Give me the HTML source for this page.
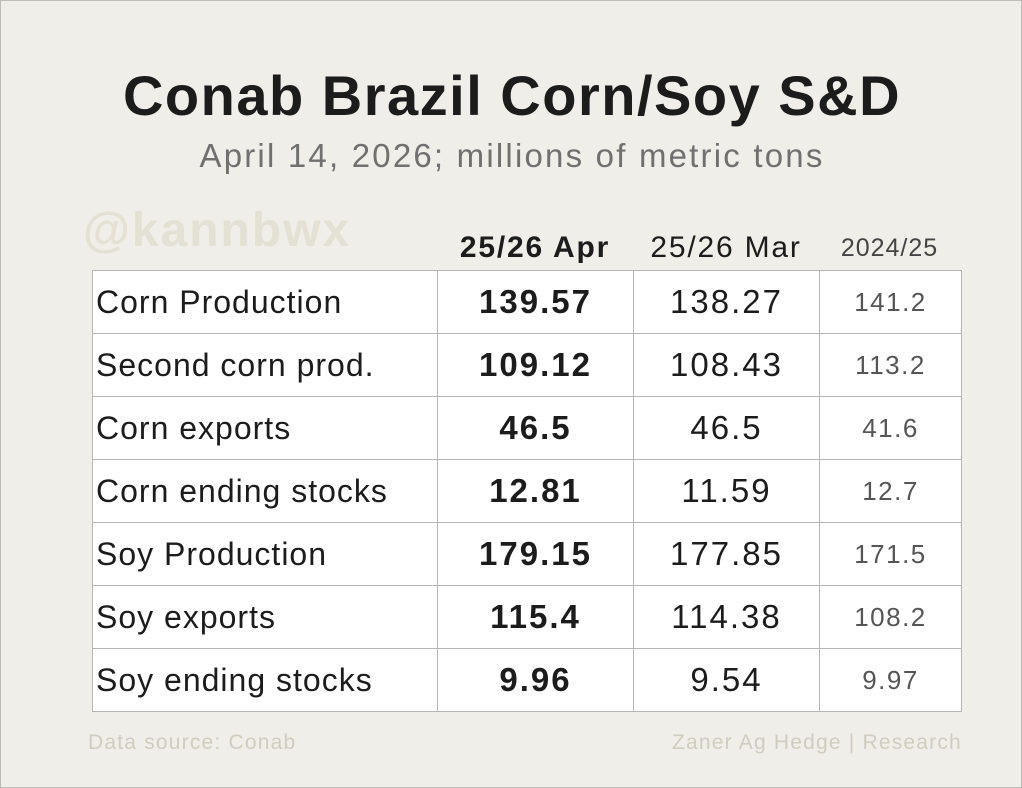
<!DOCTYPE html>
<html><head><style>
html,body{margin:0;padding:0}
body{width:1022px;height:788px;background:#efeee8;position:relative;overflow:hidden;font-family:"Liberation Sans",sans-serif;box-sizing:border-box;border:1px solid #bdbdb8}
.a{position:absolute;white-space:nowrap}
#t{left:0;width:1022px;text-align:center;top:62px;font-size:56px;font-weight:bold;color:#1c1c1c;letter-spacing:1.5px}
#s{left:0;width:1022px;text-align:center;top:136px;font-size:33px;color:#707070;letter-spacing:2.2px}
#w{left:82px;top:202px;font-size:48px;font-weight:bold;color:#e3e1d4;letter-spacing:2px}
.h{top:230px;font-size:30px;color:#1c1c1c;text-align:center;letter-spacing:1.8px}
table{position:absolute;left:91px;top:269px;border-collapse:collapse;background:#fff;table-layout:fixed;width:869px}
td{border:1.5px solid #b5b5b5;height:62px;padding:0;font-size:32px;color:#1c1c1c;letter-spacing:1px;overflow:hidden;white-space:nowrap}
td.l{padding-left:3px}
td.b{text-align:center;font-weight:bold;font-size:33px;letter-spacing:2px}
td.m{text-align:center;font-size:33px;letter-spacing:2px}
td.p{text-align:center;font-size:26px;color:#555;letter-spacing:1.5px}
.f{top:730px;font-size:21px;color:#cfcdbf;letter-spacing:1.2px}
</style></head><body>
<div class="a" id="t">Conab Brazil Corn/Soy S&amp;D</div>
<div class="a" id="s">April 14, 2026; millions of metric tons</div>
<div class="a" id="w">@kannbwx</div>
<div class="a h" style="left:436px;width:196px;font-weight:bold">25/26 Apr</div>
<div class="a h" style="left:632px;width:186px">25/26 Mar</div>
<div class="a h" style="left:818px;width:141px;font-size:25px;color:#444;top:233px;letter-spacing:1px">2024/25</div>
<table>
<col style="width:345px"><col style="width:196px"><col style="width:186px"><col style="width:142px">
<tr><td class="l">Corn Production</td><td class="b">139.57</td><td class="m">138.27</td><td class="p">141.2</td></tr>
<tr><td class="l">Second corn prod.</td><td class="b">109.12</td><td class="m">108.43</td><td class="p">113.2</td></tr>
<tr><td class="l">Corn exports</td><td class="b">46.5</td><td class="m">46.5</td><td class="p">41.6</td></tr>
<tr><td class="l">Corn ending stocks</td><td class="b">12.81</td><td class="m">11.59</td><td class="p">12.7</td></tr>
<tr><td class="l">Soy Production</td><td class="b">179.15</td><td class="m">177.85</td><td class="p">171.5</td></tr>
<tr><td class="l">Soy exports</td><td class="b">115.4</td><td class="m">114.38</td><td class="p">108.2</td></tr>
<tr><td class="l">Soy ending stocks</td><td class="b">9.96</td><td class="m">9.54</td><td class="p">9.97</td></tr>
</table>
<div class="a f" style="left:87px">Data source: Conab</div>
<div class="a f" style="left:671px">Zaner Ag Hedge | Research</div>
</body></html>
